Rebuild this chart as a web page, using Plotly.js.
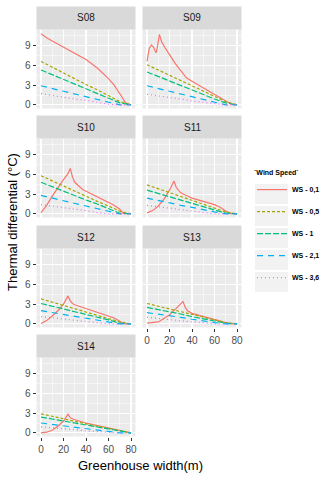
<!DOCTYPE html>
<html>
<head>
<meta charset="utf-8">
<script src="https://cdn.plot.ly/plotly-3.0.1.min.js"></script>
<style>
  html, body { margin: 0; padding: 0; background: #fff; }
  #chart { width: 332px; height: 480px; }
</style>
</head>
<body>
<div id="chart"></div>
<script>
// facets, in reading order
var panels = ['S08', 'S09', 'S10', 'S11', 'S12', 'S13', 'S14'];
var seriesNames = ['WS - 0,1', 'WS - 0,5', 'WS - 1', 'WS - 2,1', 'WS - 3,6'];
var xTicks = [0, 20, 40, 60, 80];
var yTicks = [0, 3, 6, 9];

// WS - 0,1 has its own x positions in each panel (peaks)
var ws01X = [
  [0, 2, 5, 10, 20, 30, 40, 50, 60, 65, 70, 72, 75, 80],            // S08
  [0, 2, 4, 6, 8, 9, 11, 13, 16, 20, 25, 30, 35, 40, 50, 60, 70, 75, 80], // S09
  [0, 5, 10, 15, 20, 24, 26, 28, 30, 37, 49, 58, 65, 70, 73, 80],    // S10
  [0, 5, 10, 15, 20, 22, 24, 26, 28, 30, 35, 40, 50, 60, 65, 70, 73, 80], // S11
  [0, 5, 10, 15, 20, 22, 24, 26, 28, 30, 40, 50, 60, 65, 70, 73, 80], // S12
  [0, 5, 10, 15, 20, 25, 30, 32, 34, 36, 40, 50, 60, 70, 75, 80],    // S13
  [0, 5, 10, 15, 20, 22, 24, 26, 30, 40, 50, 60, 70, 75, 80]         // S14
];
var ws01Y = [
  [10.8, 10.5, 10.2, 9.7, 8.8, 7.9, 6.9, 5.6, 4.0, 3.0, 1.8, 1.2, 0.3, 0],
  [6.6, 8.6, 9.1, 8.7, 7.9, 8.5, 10.7, 9.6, 8.7, 7.6, 6.3, 5.2, 4.1, 3.6, 2.6, 1.6, 0.7, 0.1, 0],
  [0.2, 1.3, 2.7, 4.0, 5.2, 6.1, 6.9, 5.6, 4.8, 3.7, 2.7, 1.9, 1.3, 0.7, 0.1, 0],
  [0.15, 0.5, 1.2, 2.2, 3.6, 4.3, 5.0, 4.0, 3.5, 3.2, 2.8, 2.4, 1.9, 1.4, 1.0, 0.5, 0.1, 0],
  [0.05, 0.5, 1.2, 2.0, 3.0, 3.6, 4.25, 3.5, 3.1, 2.9, 2.3, 1.75, 1.2, 0.9, 0.4, 0.05, 0],
  [0.1, 0.15, 0.3, 0.8, 1.4, 2.2, 3.0, 3.4, 2.5, 2.0, 1.6, 1.1, 0.7, 0.2, 0.05, 0],
  [0, 0.1, 0.4, 1.0, 1.8, 2.3, 2.85, 2.3, 2.0, 1.5, 1.1, 0.8, 0.35, 0.1, 0]
];

// the other wind speeds are read every 10 m
var xGrid = [0, 10, 20, 30, 40, 50, 60, 70, 80];
var ws05 = [
  [6.6, 5.7, 4.9, 4.0, 3.1, 2.3, 1.4, 0.5, 0],
  [6.1, 5.3, 4.5, 3.7, 2.9, 2.1, 1.3, 0.5, 0],
  [5.8, 5.0, 4.3, 3.5, 2.7, 1.9, 1.2, 0.4, 0],
  [4.4, 3.8, 3.2, 2.6, 2.1, 1.5, 0.9, 0.3, 0],
  [3.8, 3.3, 2.8, 2.3, 1.8, 1.3, 0.8, 0.3, 0],
  [3.1, 2.7, 2.3, 1.9, 1.5, 1.1, 0.7, 0.2, 0],
  [2.9, 2.5, 2.2, 1.8, 1.4, 1.0, 0.7, 0.3, 0]
];
var ws1 = [
  [5.3, 4.6, 3.9, 3.2, 2.4, 1.7, 1.0, 0.3, 0],
  [5.0, 4.3, 3.6, 3.0, 2.3, 1.6, 0.9, 0.3, 0],
  [4.8, 4.1, 3.5, 2.8, 2.1, 1.5, 0.8, 0.1, 0],
  [3.6, 3.1, 2.6, 2.1, 1.6, 1.1, 0.6, 0.1, 0],
  [3.1, 2.7, 2.3, 1.8, 1.4, 1.0, 0.6, 0.1, 0],
  [2.5, 2.2, 1.8, 1.5, 1.1, 0.8, 0.4, 0.1, 0],
  [2.4, 2.1, 1.8, 1.4, 1.1, 0.8, 0.5, 0.2, 0]
];
var ws21 = [
  [2.9, 2.5, 2.1, 1.7, 1.2, 0.8, 0.4, 0, 0],
  [2.9, 2.5, 2.1, 1.7, 1.2, 0.8, 0.4, 0, 0],
  [2.8, 2.4, 2.0, 1.6, 1.2, 0.7, 0.3, 0, 0],
  [2.4, 2.0, 1.7, 1.3, 1.0, 0.6, 0.3, 0, 0],
  [2.0, 1.7, 1.4, 1.1, 0.8, 0.5, 0.2, 0, 0],
  [1.7, 1.5, 1.2, 1.0, 0.7, 0.4, 0.2, 0, 0],
  [1.5, 1.3, 1.1, 0.9, 0.6, 0.4, 0.2, 0, 0]
];
var ws36 = [
  [1.7, 1.4, 1.2, 0.9, 0.7, 0.4, 0.1, 0, 0],
  [1.6, 1.4, 1.1, 0.9, 0.6, 0.4, 0.1, 0, 0],
  [1.4, 1.2, 0.9, 0.7, 0.5, 0.2, 0, 0, 0],
  [1.3, 1.1, 0.9, 0.7, 0.4, 0.2, 0, 0, 0],
  [1.1, 0.9, 0.7, 0.6, 0.4, 0.2, 0, 0, 0],
  [1.0, 0.8, 0.7, 0.5, 0.3, 0.2, 0, 0, 0],
  [0.9, 0.8, 0.6, 0.5, 0.3, 0.2, 0, 0, 0]
];

var colors = ['#F8766D', '#A3A500', '#00BF7D', '#00B0F6', '#E76BF3'];
var dashes = ['solid', '3px,2px', '6px,2px', '6px,5px', '1px,3px'];
var font = 'Liberation Sans, Arial, sans-serif';

// page pixels -> paper fractions
var W = 332, H = 480;
function px(x) { return x / W; }
function py(y) { return 1 - y / H; }

var colX = [[36.5, 135.5], [142.5, 241.5]];
var rowY = [[29.5, 108.5], [138.5, 217.5], [248.5, 327.5], [357.5, 436.5]];
var stripH = 23;

var data = [];
var layout = {
  width: W, height: H,
  margin: {l: 0, r: 0, t: 0, b: 0},
  paper_bgcolor: '#ffffff',
  plot_bgcolor: '#EBEBEB',
  font: {family: font, color: '#4D4D4D'},
  shapes: [],
  annotations: [],
  showlegend: true,
  legend: {
    x: px(252), xanchor: 'left',
    y: py(166), yanchor: 'top',
    font: {family: font, size: 7, color: '#000', weight: 'bold'},
    title: {text: '`Wind Speed`', font: {family: font, size: 7, color: '#000', weight: 'bold'}},
    tracegroupgap: 3,
    traceorder: 'grouped',
    bgcolor: 'rgba(0,0,0,0)'
  }
};

var ySets = [ws05, ws1, ws21, ws36];

panels.forEach(function(name, i) {
  var row = Math.floor(i / 2), col = i % 2;
  var n = i + 1;
  var xa = 'x' + (n === 1 ? '' : n), ya = 'y' + (n === 1 ? '' : n);
  var xk = 'xaxis' + (n === 1 ? '' : n), yk = 'yaxis' + (n === 1 ? '' : n);
  var bottom = (name === 'S13' || name === 'S14');

  layout[xk] = {
    domain: [px(colX[col][0]), px(colX[col][1])],
    anchor: ya,
    range: [-4, 84],
    tickvals: xTicks,
    showticklabels: bottom,
    ticks: bottom ? 'outside' : '',
    ticklen: 3, tickcolor: '#333333', tickwidth: 1,
    tickfont: {size: 10, color: '#4D4D4D'},
    showgrid: true, gridcolor: '#ffffff', gridwidth: 1.1,
    minor: {dtick: 10, tick0: 0, showgrid: true, gridcolor: '#ffffff', gridwidth: 0.5},
    zeroline: false, showline: false, fixedrange: true
  };
  layout[yk] = {
    domain: [py(rowY[row][1]), py(rowY[row][0])],
    anchor: xa,
    range: [-0.55, 11.45],
    tickvals: yTicks,
    showticklabels: col === 0,
    ticks: col === 0 ? 'outside' : '',
    ticklen: 3, tickcolor: '#333333', tickwidth: 1,
    tickfont: {size: 10, color: '#4D4D4D'},
    showgrid: true, gridcolor: '#ffffff', gridwidth: 1.1,
    minor: {dtick: 1.5, tick0: 0, showgrid: true, gridcolor: '#ffffff', gridwidth: 0.5},
    zeroline: false, showline: false, fixedrange: true
  };

  // strip
  layout.shapes.push({
    type: 'rect', xref: 'paper', yref: 'paper', layer: 'below',
    x0: px(colX[col][0]), x1: px(colX[col][1]),
    y0: py(rowY[row][0]), y1: py(rowY[row][0] - stripH),
    fillcolor: '#D9D9D9', line: {width: 0}
  });
  layout.annotations.push({
    xref: 'paper', yref: 'paper', xanchor: 'center', yanchor: 'middle',
    x: px((colX[col][0] + colX[col][1]) / 2),
    y: py(rowY[row][0] - stripH / 2),
    text: name, showarrow: false,
    font: {family: font, size: 10, color: '#1A1A1A'}
  });

  data.push({
    x: ws01X[i], y: ws01Y[i], xaxis: xa, yaxis: ya,
    type: 'scatter', mode: 'lines', name: seriesNames[0],
    legendgroup: 'g0', showlegend: i === 0,
    line: {color: colors[0], width: 1.2, dash: dashes[0]},
    hoverinfo: 'skip'
  });
  ySets.forEach(function(set, k) {
    data.push({
      x: xGrid, y: set[i], xaxis: xa, yaxis: ya,
      type: 'scatter', mode: 'lines', name: seriesNames[k + 1],
      legendgroup: 'g' + (k + 1), showlegend: i === 0,
      line: {color: colors[k + 1], width: 1.2, dash: dashes[k + 1]},
      hoverinfo: 'skip'
    });
  });
});

// key backgrounds of the legend
for (var k = 0; k < seriesNames.length; k++) {
  var cy = 194 + k * 22;
  layout.shapes.push({
    type: 'rect', xref: 'paper', yref: 'paper', layer: 'below',
    x0: px(255), x1: px(288), y0: py(cy + 10), y1: py(cy - 10),
    fillcolor: '#F2F2F2', line: {width: 0}
  });
}

// axis titles
layout.annotations.push({
  xref: 'paper', yref: 'paper', xanchor: 'center', yanchor: 'middle',
  x: px(12), y: py(222),
  text: 'Thermal differential (°C)', textangle: -90, showarrow: false,
  font: {family: font, size: 13, color: '#000'}
});
layout.annotations.push({
  xref: 'paper', yref: 'paper', xanchor: 'center', yanchor: 'middle',
  x: px(140), y: py(465),
  text: 'Greenhouse width(m)', showarrow: false,
  font: {family: font, size: 13, color: '#000'}
});

Plotly.newPlot('chart', data, layout, {displayModeBar: false, staticPlot: true});
</script>
</body>
</html>
